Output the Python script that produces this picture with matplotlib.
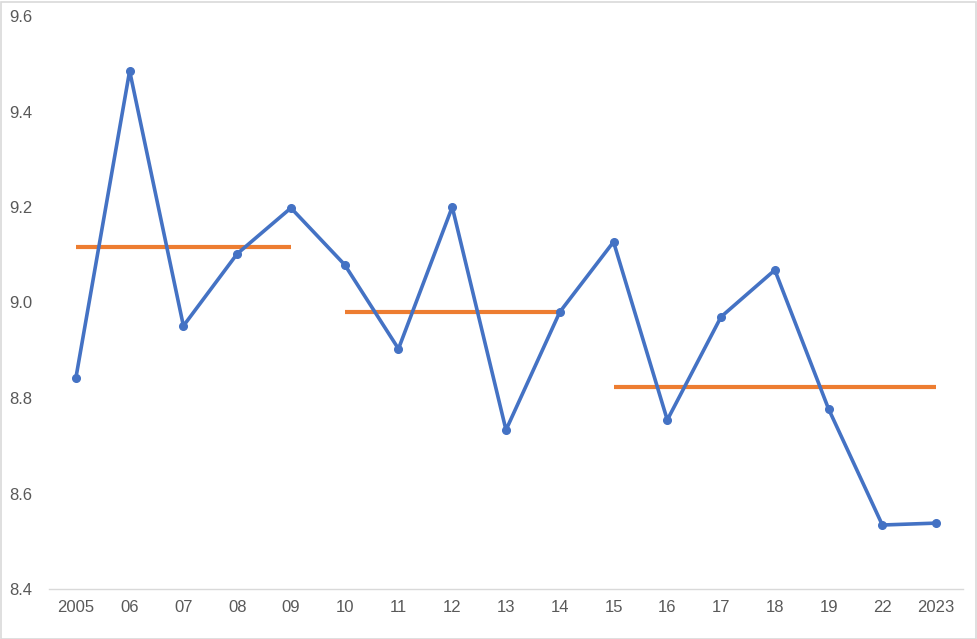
import numpy as np
import matplotlib.pyplot as plt
from matplotlib.patches import Rectangle

years = ['2005', '06', '07', '08', '09', '10', '11', '12', '13', '14',
         '15', '16', '17', '18', '19', '22', '2023']
values = [8.842, 9.485, 8.951, 9.102, 9.198, 9.079, 8.903, 9.200, 8.733, 8.980,
          9.127, 8.754, 8.970, 9.068, 8.777, 8.534, 8.538]

# period averages (start index, end index, level)
avg_start = [0, 5, 10]
avg_end = [4, 9, 16]
avg_level = [9.116, 8.980, 8.824]

plt.rcParams['font.family'] = ['Liberation Sans', 'DejaVu Sans']

W, H = 978, 639
fig = plt.figure(figsize=(W/100, H/100), dpi=100)
ax = fig.add_axes([49/W, 1-589/H, (963-49)/W, (589-16)/H])

x = np.arange(len(years))
ax.plot(x, values, color='#4472C4', lw=2.6, marker='o', ms=5.5, zorder=3)
for s, e, lv in zip(avg_start, avg_end, avg_level):
    ax.plot([x[s], x[e]], [lv, lv], color='#ED7D31', lw=3, solid_capstyle='butt', zorder=2)

ax.set_xlim(-0.5, len(years)-0.5)
ax.set_ylim(8.4, 9.6)
ax.set_yticks([8.4, 8.6, 8.8, 9.0, 9.2, 9.4, 9.6])
ax.set_yticklabels(['8.4', '8.6', '8.8', '9.0', '9.2', '9.4', '9.6'])
ax.set_xticks(x)
ax.set_xticklabels(years)
ax.tick_params(axis='both', length=0, labelsize=12, labelcolor='#595959')
ax.tick_params(axis='y', pad=12)
ax.tick_params(axis='x', pad=8)
for s in ['top', 'right', 'left']:
    ax.spines[s].set_visible(False)
ax.spines['bottom'].set_color('#D9D9D9')
ax.spines['bottom'].set_linewidth(1)

fig.patches.append(Rectangle((0.5/W, 0.5/H), 1-2/W, 1-2/H, transform=fig.transFigure,
                             fill=False, edgecolor='#D9D9D9', lw=1.2))

fig.savefig('out.png', dpi=100)
